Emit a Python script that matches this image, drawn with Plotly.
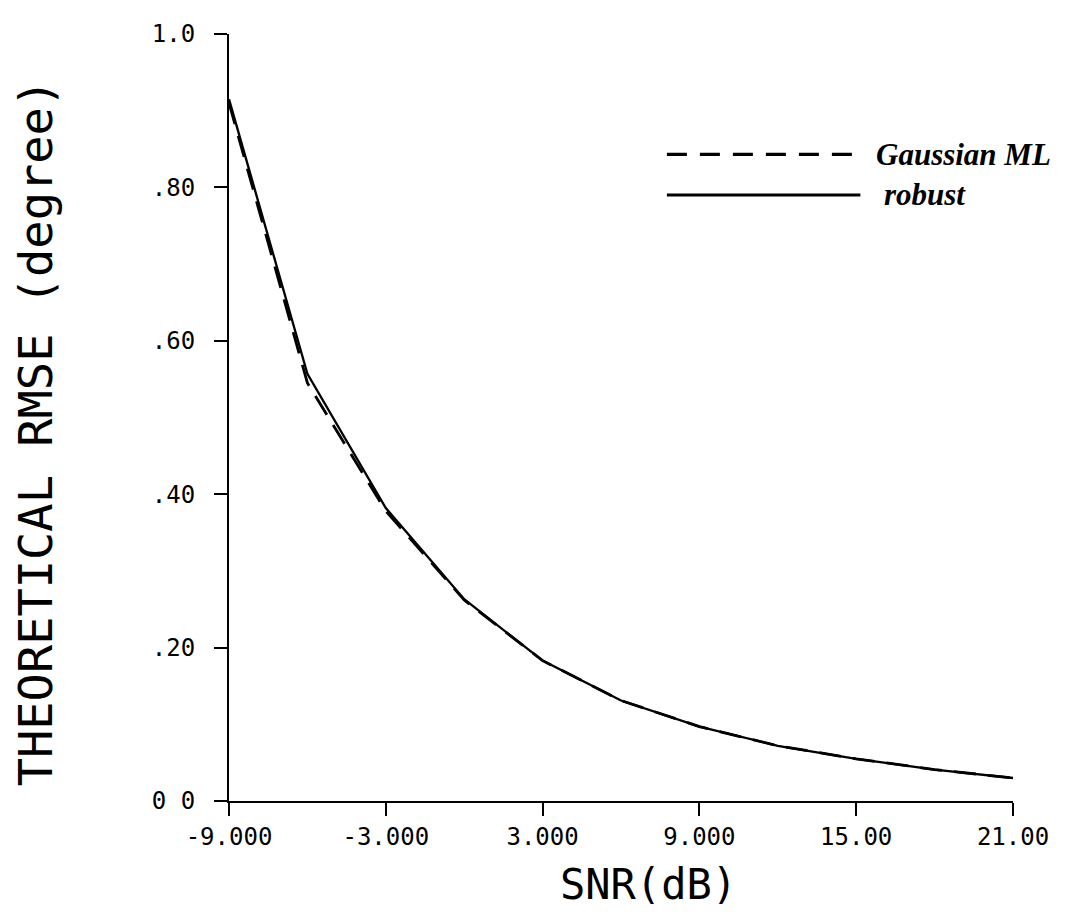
import plotly.graph_objects as go

snr_db = [-9, -6, -3, 0, 3, 6, 9, 12, 15, 18, 21]
rmse_robust = [0.915, 0.557, 0.382, 0.263, 0.183, 0.131, 0.097, 0.072, 0.055, 0.041, 0.030]
rmse_gaussian_ml = [0.910, 0.545, 0.378, 0.262, 0.183, 0.131, 0.097, 0.072, 0.055, 0.041, 0.030]

x_tickvals = [-9, -3, 3, 9, 15, 21]
x_ticktext = ["-9.000", "-3.000", "3.000", "9.000", "15.00", "21.00"]
y_tickvals = [0, 0.2, 0.4, 0.6, 0.8, 1.0]
y_ticktext = ["0 0", ".20", ".40", ".60", ".80", "1.0"]

legend_names = ["Gaussian ML", "robust"]

mono = "DejaVu Sans Mono"
OFF = 8  # page body margin
W, H = 1069 - 2 * OFF, 922 - 2 * OFF
L, R, T, B = 229, 1015, 24, 801  # target pixels in the screenshot


def px_x(p):
    return (p - L) / (R - L)


def px_y(p):
    return (B - p) / (B - T)


fig = go.Figure()
fig.add_trace(go.Scatter(x=snr_db, y=rmse_gaussian_ml, mode="lines",
                         line=dict(color="black", width=2.8, dash="22px,12px"),
                         name=legend_names[0], showlegend=False))
fig.add_trace(go.Scatter(x=snr_db, y=rmse_robust, mode="lines",
                         line=dict(color="black", width=2.3),
                         name=legend_names[1], showlegend=False))

# legend drawn manually
fig.add_shape(type="line", xref="paper", yref="paper",
              x0=px_x(668), x1=px_x(862), y0=px_y(146), y1=px_y(146),
              line=dict(color="black", width=3.2, dash="20px,13px"))
fig.add_shape(type="line", xref="paper", yref="paper",
              x0=px_x(668), x1=px_x(862), y0=px_y(187), y1=px_y(187),
              line=dict(color="black", width=3))
legend_font = dict(family="Liberation Serif", size=31, color="black")
fig.add_annotation(xref="paper", yref="paper", x=px_x(876), y=px_y(146),
                   text="<b><i>" + legend_names[0] + "</i></b>", showarrow=False,
                   xanchor="left", yanchor="middle", font=legend_font)
fig.add_annotation(xref="paper", yref="paper", x=px_x(884), y=px_y(187),
                   text="<b><i>" + legend_names[1] + "</i></b>", showarrow=False,
                   xanchor="left", yanchor="middle", font=legend_font)

# axis titles
fig.add_annotation(xref="paper", yref="paper", x=px_x(35), y=px_y(428),
                   text="THEORETICAL RMSE (degree)", textangle=-90, showarrow=False,
                   xanchor="center", yanchor="middle",
                   font=dict(family=mono, size=47, color="black"))
fig.add_annotation(xref="paper", yref="paper", x=px_x(650), y=px_y(886),
                   text="SNR(dB)", showarrow=False,
                   xanchor="center", yanchor="middle",
                   font=dict(family=mono, size=42, color="black"))

fig.update_xaxes(range=[-9, 21], tickvals=x_tickvals, ticktext=x_ticktext,
                 showgrid=False, zeroline=False, showline=True, linecolor="black",
                 linewidth=2, ticks="outside", ticklen=13, tickwidth=2, tickcolor="black",
                 tickfont=dict(family=mono, size=24, color="black"))
fig.update_yaxes(range=[0, 1.0], tickvals=y_tickvals, ticktext=y_ticktext,
                 showgrid=False, zeroline=False, showline=True, linecolor="black",
                 linewidth=2, ticks="outside", ticklen=13, tickwidth=2, tickcolor="black",
                 ticklabelstandoff=14,
                 tickfont=dict(family=mono, size=24, color="black"))

fig.update_layout(width=W, height=H,
                  margin=dict(l=L - OFF, r=(W + OFF) - R, t=T - OFF, b=(H + OFF) - B),
                  plot_bgcolor="white", paper_bgcolor="white", showlegend=False)

fig.write_html("out.html")
